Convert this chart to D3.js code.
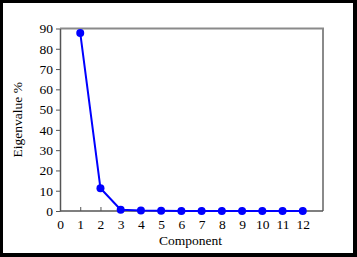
<!DOCTYPE html>
<html>
<head>
<meta charset="utf-8">
<script src="https://cdn.jsdelivr.net/npm/d3@7"></script>
<style>
  html, body { margin: 0; padding: 0; background: #000; }
  svg { display: block; }
  text { font-family: "Liberation Serif", "DejaVu Serif", serif; }
</style>
</head>
<body>
<svg id="chart" width="357" height="257"></svg>
<script>
// scree plot data
const components = [1, 2, 3, 4, 5, 6, 7, 8, 9, 10, 11, 12];
const eigenPct = [87.8, 11.2, 0.6, 0.2, 0.1, 0.05, 0.03, 0.02, 0.01, 0.01, 0.0, 0.0];
const xTicks = [0, 1, 2, 3, 4, 5, 6, 7, 8, 9, 10, 11, 12];
const yTicks = [0, 10, 20, 30, 40, 50, 60, 70, 80, 90];

const svg = d3.select('#chart');

// white card inside black frame
svg.append('rect')
  .attr('x', 3).attr('y', 3)
  .attr('width', 350).attr('height', 250)
  .attr('fill', '#fff');

const plotL = 60, plotR = 323, plotT = 28.5, plotB = 211;

const x = d3.scaleLinear().domain([0, 13]).range([plotL, plotR]);
const y = d3.scaleLinear().domain([0, 90]).range([plotB, plotT]);

// top and right frame (grey)
svg.append('path')
  .attr('d', `M${plotL},${plotT}H${plotR}V${plotB}`)
  .attr('fill', 'none')
  .attr('stroke', '#8a8a8a')
  .attr('stroke-width', 2);

// y axis
const yAxis = svg.append('g')
  .attr('transform', `translate(${plotL},0)`)
  .call(d3.axisLeft(y).tickValues(yTicks).tickSize(4).tickSizeOuter(0).tickPadding(3));

// x axis, ticks pointing up
const xAxis = svg.append('g')
  .attr('transform', `translate(0,${plotB})`)
  .call(d3.axisBottom(x).tickValues(xTicks).tickSize(-4).tickSizeOuter(0).tickPadding(8));
xAxis.select('.domain').attr('d', `M${plotL},0H${plotR}`);

[xAxis, yAxis].forEach(g => {
  g.attr('font-family', '"Liberation Serif", serif');
  g.selectAll('.domain').attr('stroke', '#555').attr('stroke-width', 1.5);
  g.selectAll('.tick line').attr('stroke', '#555').attr('stroke-width', 1);
  g.selectAll('.tick text')
    .attr('font-size', 13.5)
    .attr('fill', '#000');
});

// series
const pts = components.map((c, i) => [c, eigenPct[i]]);

svg.append('path')
  .datum(pts)
  .attr('fill', 'none')
  .attr('stroke', '#0000ff')
  .attr('stroke-width', 2)
  .attr('d', d3.line().x(d => x(d[0])).y(d => y(d[1])));

svg.append('g')
  .selectAll('circle')
  .data(pts)
  .enter().append('circle')
  .attr('cx', d => x(d[0]))
  .attr('cy', d => y(d[1]))
  .attr('r', 4)
  .attr('fill', '#0000ff');

// axis titles
svg.append('text')
  .attr('x', (plotL + plotR) / 2 - 1)
  .attr('y', 245)
  .attr('text-anchor', 'middle')
  .attr('font-size', 13.5)
  .text('Component');

svg.append('text')
  .attr('transform', `translate(22,${(plotT + plotB) / 2}) rotate(-90)`)
  .attr('text-anchor', 'middle')
  .attr('font-size', 13.5)
  .text('Eigenvalue %');
</script>
</body>
</html>
